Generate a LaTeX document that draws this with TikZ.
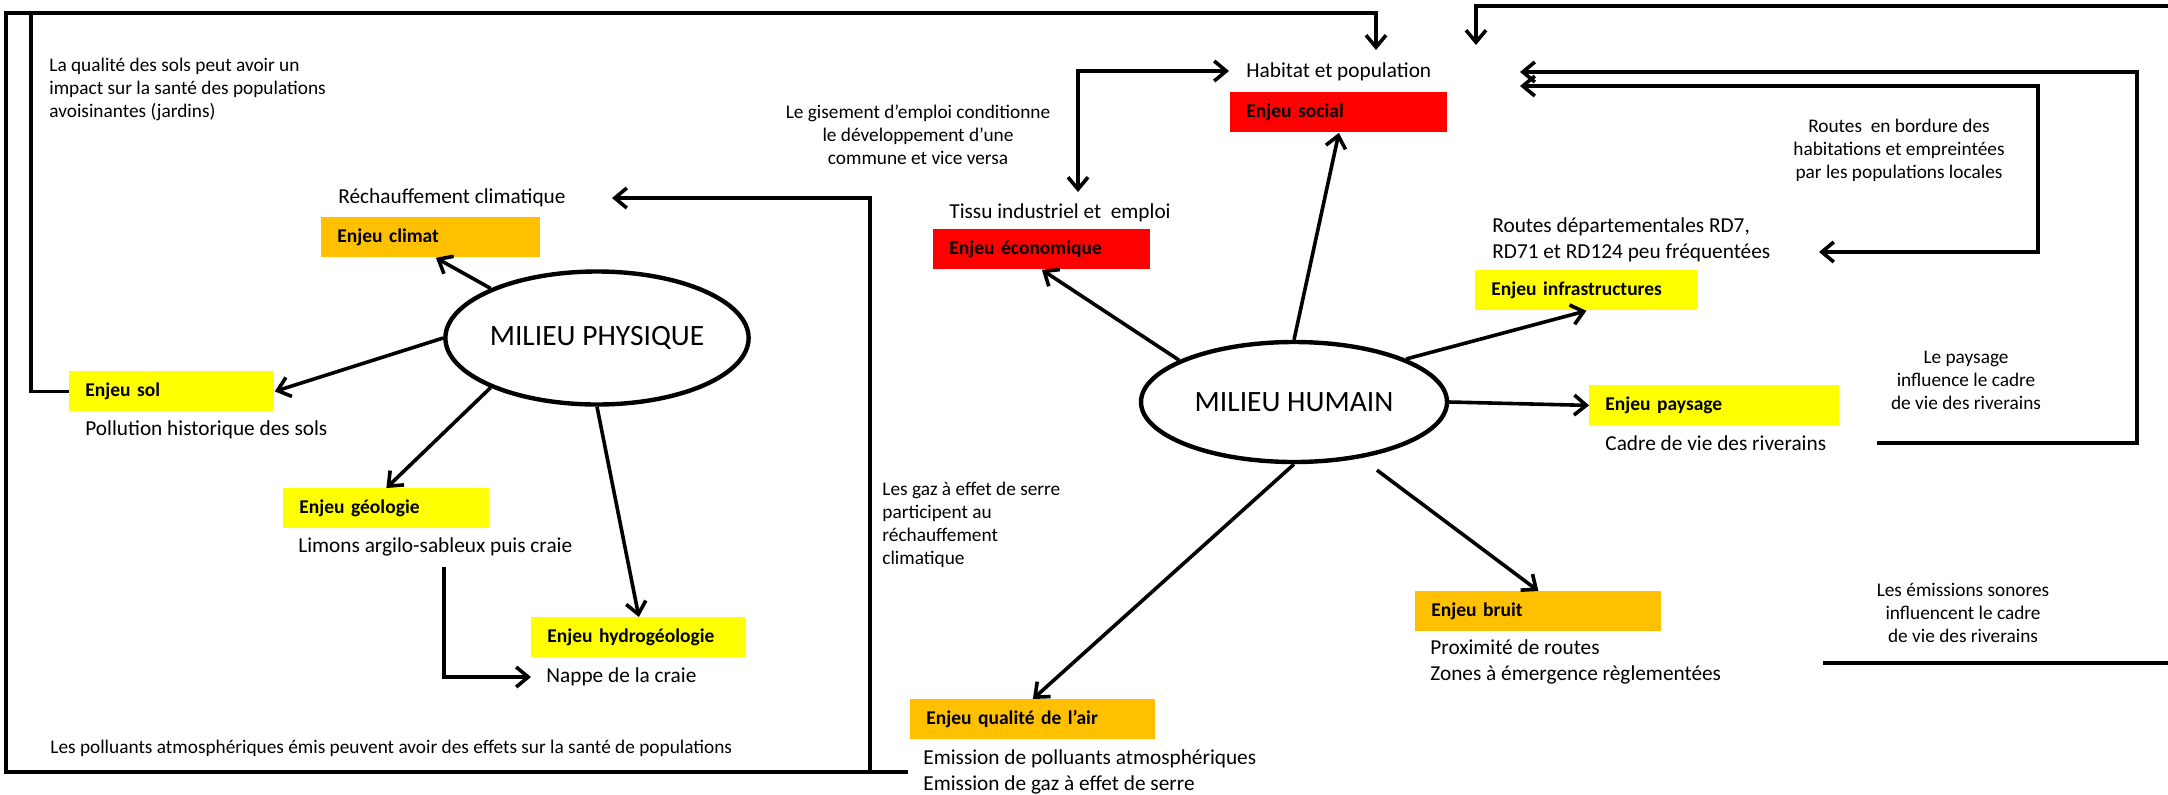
\documentclass[tikz,border=0pt]{standalone}
\usepackage{fontspec}
\setmainfont{Carlito}
\usetikzlibrary{arrows.meta,positioning,shapes.geometric}

\definecolor{enjeuJaune}{HTML}{FFFF00}
\definecolor{enjeuOrange}{HTML}{FFC000}
\definecolor{enjeuRouge}{HTML}{FF0000}

\begin{document}
\begin{tikzpicture}[x=0.5pt, y=-0.5pt, >={Straight Barb[length=6pt, width=10pt]}]

\tikzset{
  enjeu/.style={
    rectangle, anchor=north west,
    inner xsep=8pt, inner ysep=0pt,
    minimum height=20pt, text width=#1, align=left,
    font=\fontsize{9.75}{11}\selectfont\bfseries
  },
  milieu/.style={ellipse, draw, line width=2.2pt, inner sep=0pt,
    font=\fontsize{14.75}{17}\selectfont},
  lbl/.style={anchor=west, inner sep=0pt, align=left,
    font=\fontsize{10.65}{12.75}\selectfont},
  remark/.style={inner sep=0pt, align=center,
    font=\fontsize{9.65}{11.5}\selectfont},
  arrow/.style={->, line width=1.8pt},
  link/.style={line width=1.8pt}
}

\useasboundingbox (0,0) rectangle (2168,794);

% =========================================================
% Milieu physique
% =========================================================
\node[milieu, minimum width=150pt, minimum height=66.5pt] (physique) at (597,338) {MILIEU PHYSIQUE};

\node[enjeu=93.5pt, fill=enjeuOrange] (climat) at (321,217) {Enjeu climat};
\node[lbl] (rechauff) at (338,198) {Réchauffement climatique};

\node[enjeu=86.5pt, fill=enjeuJaune] (sol) at (69,371) {Enjeu sol};
\node[lbl] (pollution) at (85,430) {Pollution historique des sols};

\node[enjeu=87pt, fill=enjeuJaune] (geologie) at (283,488) {Enjeu géologie};
\node[lbl] (limons) at (298,547) {Limons argilo-sableux puis craie};

\node[enjeu=91.5pt, fill=enjeuJaune] (hydro) at (531,617) {Enjeu hydrogéologie};
\node[lbl] (nappe) at (546,677) {Nappe de la craie};

\node[remark, anchor=west, align=left] (qualite) at (49,89)
  {La qualité des sols peut avoir un\\impact sur la santé des populations\\avoisinantes (jardins)};
\node[remark, anchor=west] (polluants) at (50,748)
  {Les polluants atmosphériques émis peuvent avoir des effets sur la santé de populations};

\draw[arrow] (physique.155) -- ([xshift=2.5pt]climat.south);
\draw[arrow] (physique.west) -- (sol.east);
\draw[arrow] (physique.205) -- (geologie.north);
\draw[arrow] (physique.south) -- (hydro.north);

\coordinate (limonsPied) at (444,567);
\coordinate (nappePointe) at (531,677);
\draw[arrow] (limonsPied) |- (nappePointe);

% =========================================================
% Milieu humain
% =========================================================
\node[milieu, minimum width=153pt, minimum height=60pt] (humain) at (1294,402) {MILIEU HUMAIN};

\node[enjeu=92.5pt, fill=enjeuRouge] (social) at (1230,92) {Enjeu social};
\node[lbl] (habitat) at (1246,72) {Habitat et population};

\node[enjeu=92.5pt, fill=enjeuRouge] (eco) at (933,229) {Enjeu économique};
\node[lbl] (tissu) at (949,213) {Tissu industriel et \ emploi};

\node[enjeu=95pt, fill=enjeuJaune] (infra) at (1475,270) {Enjeu infrastructures};
\node[lbl] (routes) at (1492,240) {Routes départementales RD7,\\RD71 et RD124 peu fréquentées};

\node[enjeu=109pt, fill=enjeuJaune] (paysage) at (1589,385) {Enjeu paysage};
\node[lbl] (cadre) at (1605,443) {Cadre de vie des riverains};

\node[enjeu=107pt, fill=enjeuOrange] (bruit) at (1415,591) {Enjeu bruit};
\node[lbl] (proximite) at (1430,662) {Proximité de routes\\Zones à émergence règlementées};

\node[enjeu=106.5pt, fill=enjeuOrange] (air) at (910,699) {Enjeu qualité de l’air};
\node[lbl] (emission) at (923,772) {Emission de polluants atmosphériques\\Emission de gaz à effet de serre};

\draw[arrow] (humain.north) -- (social.south);
\draw[arrow] (humain.160) -- (eco.south);
\draw[arrow] (humain.21) -- (infra.south);
\draw[arrow] (humain.east) -- (paysage.west);
\draw[arrow] (humain.south) -- (air.north);
\draw[arrow, shorten <=10pt] (humain.-40) -- (bruit.north);

% =========================================================
% Remarques
% =========================================================
\node[remark] (gisement) at (918,135)
  {Le gisement d’emploi conditionne\\le développement d’une\\commune et vice versa};
\node[remark, anchor=west, align=left] (gaz) at (882,525)
  {Les gaz à effet de serre\\participent au\\réchauffement\\climatique};
\node[remark] (bordure) at (1899,150)
  {Routes \ en bordure des\\habitations et empreintées\\par les populations locales};
\node[remark] (paysageRem) at (1966,380)
  {Le paysage\\influence le cadre\\de vie des riverains};
\node[remark] (sonores) at (1963,613)
  {Les émissions sonores\\influencent le cadre\\de vie des riverains};

% =========================================================
% Liaisons entre milieux
% =========================================================
\coordinate (coinHG) at (6,13);
\coordinate (solHaut) at (31,13);
\coordinate (habHaut) at (1376,50);
\coordinate (gazPied) at (870,771);
\coordinate (rechPointe) at (612,198);
\coordinate (tissuPointe) at (1078,192);
\coordinate (habGauche) at (1229,71);
\coordinate (habDroite1) at (1520,72);
\coordinate (habDroite2) at (1520,86);
\coordinate (routesPointe) at (1819,252);
\coordinate (cadreFin) at (1877,443);
\coordinate (bordHaut) at (2168,6);
\coordinate (habHaut2) at (1476,45);
\coordinate (sonoresG) at (1823,663);
\coordinate (sonoresD) at (2168,663);

\draw[arrow] ([xshift=-7.5pt]emission.west) -| (coinHG) -| (habHaut);
\draw[link] (sol.west) -| (solHaut);
\draw[arrow] (gazPied) |- (rechPointe);
\draw[arrow, <->] (tissuPointe) |- (habGauche);
\draw[arrow, <->] (habDroite2) -| (2038,252) -- (routesPointe);
\draw[arrow] (cadreFin) -| (2137,72) -- (habDroite1);
\draw[arrow] (bordHaut) -| (habHaut2);
\draw[link] (sonoresG) -- (sonoresD);

\end{tikzpicture}
\end{document}
